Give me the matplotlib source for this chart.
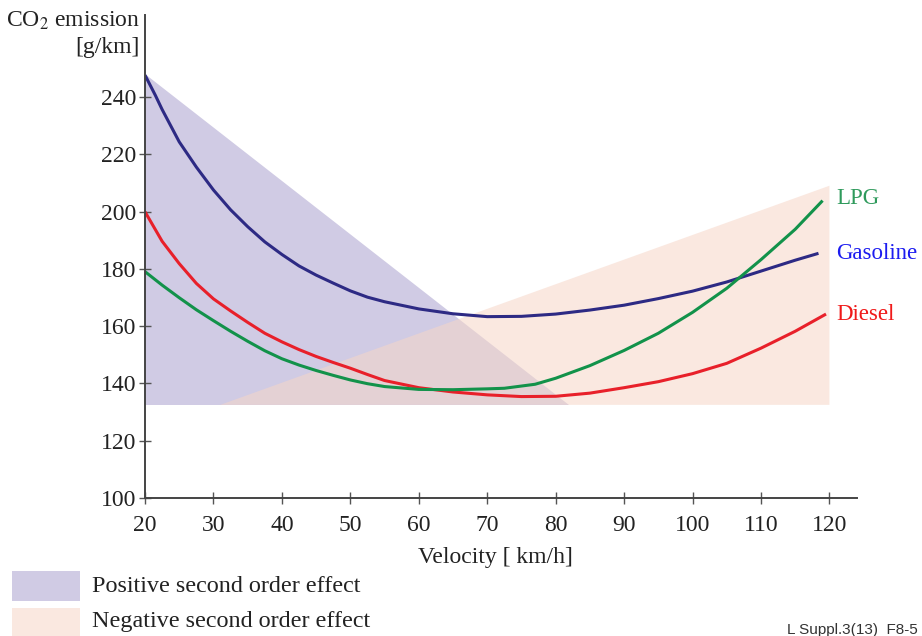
import matplotlib.pyplot as plt
from matplotlib.patches import Polygon, Rectangle

# CO2 emission [g/km], velocity in km/h
v_gas = [20, 21.5, 22.5, 25, 27.5, 30, 32.5, 35, 37.5, 40, 42.5, 45, 47.5, 50, 52.5, 55, 60, 65, 70, 75,
         80, 85, 90, 95, 100, 105, 110, 115, 118.4]
gasoline = [247.6, 240.6, 235.6, 224.3, 215.5, 207.5, 200.6, 194.7, 189.4, 185, 181, 177.8, 175, 172.3, 170.1, 168.5,
            166, 164.3, 163.3, 163.4, 164.2, 165.6, 167.3, 169.6, 172.2, 175.4, 179.2, 183, 185.4]

v_diesel = [20, 22.5, 25, 27.5, 30, 32.5, 35, 37.5, 40, 42.5, 45, 47.5, 50, 52.5, 55, 60, 65, 70, 75, 80,
            85, 90, 95, 100, 105, 110, 115, 119.5]
diesel = [199.9, 189.6, 181.8, 174.9, 169.5, 165.3, 161.3, 157.5, 154.5, 151.8, 149.4, 147.3, 145.3, 143.1, 141,
          138.5, 137, 136, 135.4, 135.5, 136.6, 138.5, 140.6, 143.4, 147, 152.3, 158.2, 164.2]

v_lpg = [20, 22.5, 25, 27.5, 30, 32.5, 35, 37.5, 40, 42.5, 45, 47.5, 50, 52.5, 55, 60, 65, 70, 72.5, 77,
         80, 85, 90, 95, 100, 105, 110, 115, 119]
lpg = [179, 174.3, 169.9, 165.7, 161.9, 158.2, 154.7, 151.4, 148.6, 146.4, 144.5, 142.8, 141.2, 139.9, 138.9,
       137.9, 137.8, 138.1, 138.3, 139.7, 141.8, 146.2, 151.5, 157.5, 164.8, 173.2, 183.2, 193.8, 203.8]

# second order effect regions (corner points)
pos_v = [20, 20, 82]
pos_co2 = [248, 132.5, 132.5]
neg_v = [31, 120, 120]
neg_co2 = [132.5, 209, 132.5]

x_ticks = list(range(20, 121, 10))
y_ticks = list(range(100, 241, 20))

plt.rcParams['font.family'] = ['Liberation Serif', 'DejaVu Serif']

fig = plt.figure(figsize=(9.22, 6.36), dpi=100)
ax = fig.add_axes([0.1573, 0.217, 0.772, 0.759])

purple = '#d0cbe4'
peach = '#f6d6c8'
ax.add_patch(Polygon(list(zip(pos_v, pos_co2)), closed=True, fc=purple, ec='none', zorder=1))
ax.add_patch(Polygon(list(zip(neg_v, neg_co2)), closed=True, fc=peach, ec='none', alpha=0.55, zorder=2))

ax.plot(v_gas, gasoline, color='#2d2a84', lw=2.2, zorder=4, solid_capstyle='butt', solid_joinstyle='round')
ax.plot(v_diesel, diesel, color='#e8202a', lw=2.2, zorder=4, solid_capstyle='butt', solid_joinstyle='round')
ax.plot(v_lpg, lpg, color='#12924a', lw=2.2, zorder=4, solid_capstyle='butt', solid_joinstyle='round')

ax.text(121, 204.5, 'LPG', color='#2f9a5c', fontsize=16.5, va='center', ha='left')
ax.text(121, 185.5, 'Gasoline', color='#1c1cf0', fontsize=16.5, va='center', ha='left')
ax.text(121, 164, 'Diesel', color='#f01a1a', fontsize=16.5, va='center', ha='left')

ax.set_xlim(20, 124)
ax.set_ylim(100, 268.5)
ax.set_xticks(x_ticks)
ax.set_yticks(y_ticks)
for s in ['top', 'right']:
    ax.spines[s].set_visible(False)
for s in ['left', 'bottom']:
    ax.spines[s].set_color('#444444')
    ax.spines[s].set_linewidth(1.4)
    ax.spines[s].set_zorder(5)
ax.tick_params(direction='inout', length=9, width=1.0, color='#555555',
               labelsize=17, labelcolor='#222222')
ax.tick_params(axis='x', pad=8)
ax.tick_params(axis='y', pad=2)
ax.set_xlabel('Velocity [ km/h]', fontsize=17, color='#222222')
ax.xaxis.set_label_coords(0.4916, -0.102)

fig.text(140 / 922, 1 - 21 / 636, 'CO$_2$ emission', fontsize=17, ha='right', va='center', color='#222222',
         math_fontfamily='stix')
fig.text(140 / 922, 1 - 48 / 636, '[g/km]', fontsize=17, ha='right', va='center', color='#222222')

# legend boxes
fig.patches.append(Rectangle((12 / 922, 1 - 601 / 636), 68 / 922, 30 / 636, transform=fig.transFigure,
                             fc=purple, ec='none'))
fig.patches.append(Rectangle((12 / 922, 0), 68 / 922, 28 / 636, transform=fig.transFigure,
                             fc='#fae8e0', ec='none'))
fig.text(92 / 922, 1 - 587 / 636, 'Positive second order effect', fontsize=17.4, va='center', color='#222222')
fig.text(92 / 922, 1 - 622 / 636, 'Negative second order effect', fontsize=17.4, va='center', color='#222222')

fig.text(918 / 922, 1 - 630 / 636, 'L Suppl.3(13)  F8-5', fontsize=11, ha='right', va='center',
         family=['Liberation Sans', 'DejaVu Sans'], color='#333333')

fig.savefig('out.png', dpi=100)
